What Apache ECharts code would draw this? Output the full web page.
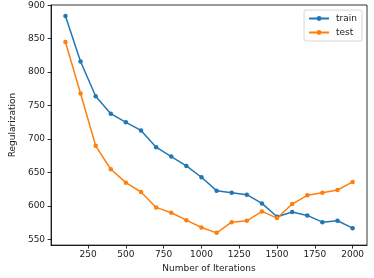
<!DOCTYPE html>
<html><head><meta charset="utf-8">
<script src="https://cdn.jsdelivr.net/npm/echarts@6/dist/echarts.min.js"></script>
<style>html,body{margin:0;padding:0;background:#fff}#c{width:374px;height:278px}</style>
</head><body><div id="c"></div>
<script>
const iterations = [100,200,300,400,500,600,700,800,900,1000,1100,1200,1300,1400,1500,1600,1700,1800,1900,2000];
const trainValues = [884,816,764,738,725,713,688,674,660,643,623,620,617,604,584,591,586,576,578,567];
const testValues = [845,768,690,655,635,621,598,590,579,568,560,576,578,592,582,603,616,620,624,636];
const xTicks = [250,500,750,1000,1250,1500,1750,2000];
const yTicks = [550,600,650,700,750,800,850,900];

const font = 'DejaVu Sans';
const fs = 9;
const chart = echarts.init(document.getElementById('c'), null, {renderer:'canvas'});
const mk = (name, vals, color) => ({
  name, type:'line', data: iterations.map((x,i)=>[x, vals[i]]),
  symbol:'circle', symbolSize:4.5, showSymbol:true,
  lineStyle:{color, width:1.5}, itemStyle:{color}, animation:false
});
chart.setOption({
  animation:false,
  textStyle:{fontFamily:font},
  grid:{left:39, right:7, top:5, bottom:29, show:true, borderColor:'#000', borderWidth:0.8, backgroundColor:'transparent'},
  legend:{
    orient:'vertical', right:12, top:10, itemWidth:20, itemHeight:6, itemGap:5,
    backgroundColor:'#fff', borderColor:'#ccc', borderWidth:0.8, borderRadius:2, padding:[4,5,4,4],
    textStyle:{fontFamily:font, fontSize:fs, color:'#222', padding:[0,0,0,2]},
    data:['train','test']
  },
  xAxis:{
    type:'value', min:5, max:2095,
    name:'Number of Iterations', nameLocation:'middle', nameGap:18,
    nameTextStyle:{fontFamily:font, fontSize:fs, color:'#222'},
    axisLine:{show:true, lineStyle:{color:'#000', width:0.8}},
    axisTick:{show:true, length:3.5, lineStyle:{color:'#000', width:0.8}, customValues:xTicks},
    axisLabel:{fontFamily:font, fontSize:fs, color:'#222', margin:5, customValues:xTicks, formatter:v=>String(v)},
    splitLine:{show:false}
  },
  yAxis:{
    type:'value', min:541.7, max:900.3,
    name:'Regularization', nameLocation:'middle', nameGap:31,
    nameTextStyle:{fontFamily:font, fontSize:fs, color:'#222'},
    axisLine:{show:true, lineStyle:{color:'#000', width:0.8}},
    axisTick:{show:true, length:3.5, lineStyle:{color:'#000', width:0.8}, customValues:yTicks},
    axisLabel:{fontFamily:font, fontSize:fs, color:'#222', margin:6, customValues:yTicks, formatter:v=>String(v)},
    splitLine:{show:false}
  },
  series:[mk('train', trainValues, '#1f77b4'), mk('test', testValues, '#ff7f0e')]
});
</script></body></html>
